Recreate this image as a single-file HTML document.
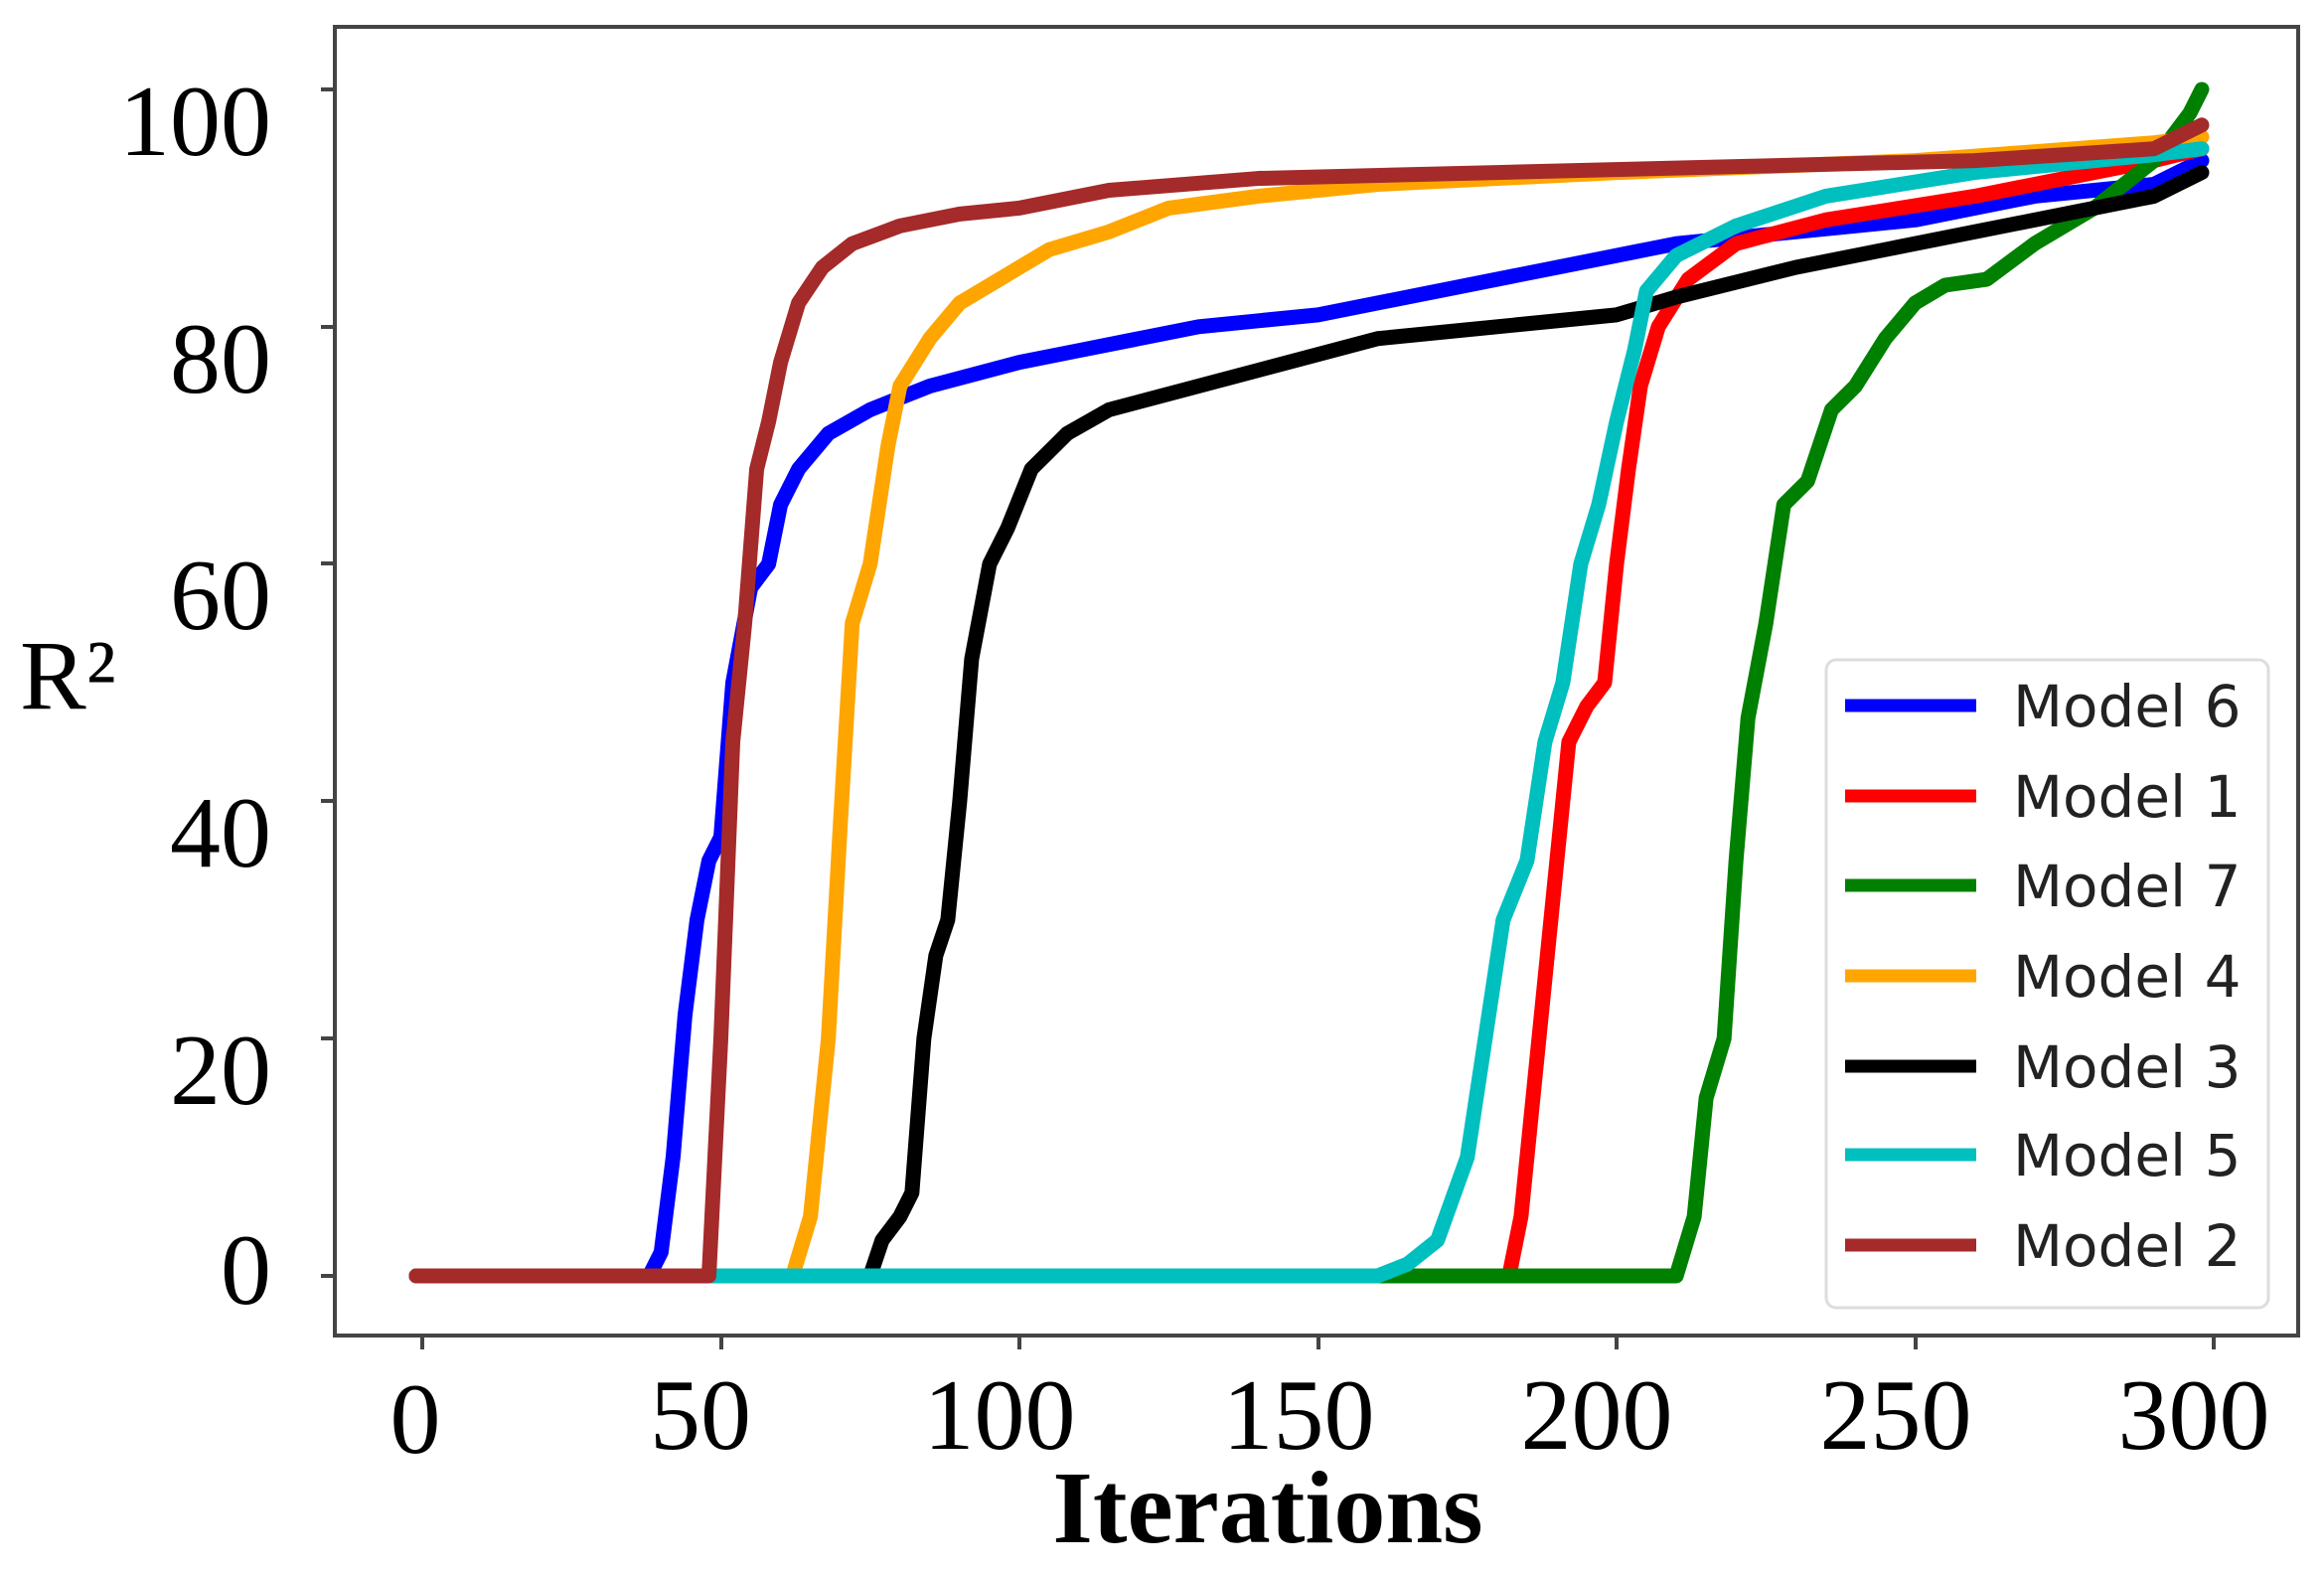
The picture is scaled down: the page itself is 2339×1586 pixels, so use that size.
<!DOCTYPE html>
<html><head><meta charset="utf-8"><style>
html,body{margin:0;padding:0;background:#fff;}
svg{display:block;}
.t{font-family:"Liberation Serif",serif;font-size:102px;fill:#000;}
.l{font-family:"DejaVu Sans",sans-serif;font-size:58px;fill:#222;}
</style></head><body>
<svg width="2339" height="1586" viewBox="0 0 2339 1586" xmlns="http://www.w3.org/2000/svg">
<rect x="337" y="27" width="1976" height="1317" fill="#fff" stroke="#444" stroke-width="4"/>
<g stroke="#444" stroke-width="4">
<line x1="323" y1="90" x2="337" y2="90"/><line x1="323" y1="329" x2="337" y2="329"/><line x1="323" y1="567" x2="337" y2="567"/><line x1="323" y1="806" x2="337" y2="806"/><line x1="323" y1="1045" x2="337" y2="1045"/><line x1="323" y1="1284" x2="337" y2="1284"/>
<line x1="425" y1="1344" x2="425" y2="1358"/><line x1="726" y1="1344" x2="726" y2="1358"/><line x1="1026" y1="1344" x2="1026" y2="1358"/><line x1="1327" y1="1344" x2="1327" y2="1358"/><line x1="1627" y1="1344" x2="1627" y2="1358"/><line x1="1928" y1="1344" x2="1928" y2="1358"/><line x1="2228" y1="1344" x2="2228" y2="1358"/>
</g>
<g class="t" text-anchor="end">
<text x="273" y="156">100</text><text x="273" y="395">80</text><text x="273" y="633">60</text><text x="273" y="872">40</text><text x="273" y="1111">20</text><text x="273" y="1312">0</text>
</g>
<g class="t" text-anchor="middle">
<text x="418" y="1462">0</text><text x="705" y="1458">50</text><text x="1006" y="1458">100</text><text x="1307" y="1458">150</text><text x="1607" y="1458">200</text><text x="1908" y="1458">250</text><text x="2208" y="1458">300</text>
</g>
<text x="1276" y="1552" text-anchor="middle" style="font-family:'Liberation Serif',serif;font-weight:bold;font-size:104px">Iterations</text>
<text x="20" y="713" style="font-family:'Liberation Serif',serif;font-size:100px">R²</text>
<g fill="none" stroke-width="15" stroke-linejoin="round" stroke-linecap="round" transform="translate(425,1284) scale(6.01,-11.94)">
<polyline vector-effect="non-scaling-stroke" stroke="#0000ff" points="-1,0 38,0 40,2 42,10 44,22 46,30 48,35 50,37 52,50 55,58 58,60 60,65 63,68 68,71 75,73 85,75 100,77 110,78 130,80 150,81 170,83 190,85 210,87 230,88 250,89 270,91 290,92 298,94"/>
<polyline vector-effect="non-scaling-stroke" stroke="#ff0000" points="-1,0 182,0 184,5 186,15 188,25 190,35 192,45 195,48 198,50 200,60 202,68 204,75 207,80 212,84 220,87 235,89 260,91 290,94 298,95"/>
<polyline vector-effect="non-scaling-stroke" stroke="#008000" points="-1,0 210,0 213,5 215,15 218,20 220,35 222,47 225,55 228,65 232,67 236,73 240,75 245,79 250,82 255,83.5 262,84 270,87 280,90 290,94 296,98 298,100"/>
<polyline vector-effect="non-scaling-stroke" stroke="#ffa500" points="-1,0 62,0 65,5 68,20 70,38 72,55 75,60 78,70 80,75 85,79 90,82 95,83.5 100,85 105,86.5 115,88 125,90 140,91 160,92 200,93 250,94 290,95.5 298,96"/>
<polyline vector-effect="non-scaling-stroke" stroke="#000000" points="-1,0 75,0 77,3 80,5 82,7 84,20 86,27 88,30 90,40 92,52 95,60 98,63 102,68 108,71 115,73 130,75 145,77 160,79 180,80 200,81 210,82.5 230,85 260,88 290,91 298,93"/>
<polyline vector-effect="non-scaling-stroke" stroke="#00bfbf" points="-1,0 160,0 165,1 170,3 175,10 178,20 181,30 185,35 188,45 191,50 194,60 197,65 200,72 203,78 205,83 210,86 220,88.5 235,91 260,93 290,94.5 298,95"/>
<polyline vector-effect="non-scaling-stroke" stroke="#a52a2a" points="-1,0 48,0 50,20 52,45 54,55 56,68 58,72 60,77 63,82 67,85 72,87 80,88.5 90,89.5 100,90 115,91.5 140,92.5 180,93 220,93.5 260,94 290,95 298,97"/>
</g>
<rect x="1838" y="664" width="445" height="652" rx="10" fill="#fff" fill-opacity="0.9" stroke="#ddd" stroke-width="3"/>
<g stroke-width="13">
<line x1="1857" y1="710" x2="1989" y2="710" stroke="#0000ff"/>
<line x1="1857" y1="801" x2="1989" y2="801" stroke="#ff0000"/>
<line x1="1857" y1="891" x2="1989" y2="891" stroke="#008000"/>
<line x1="1857" y1="982" x2="1989" y2="982" stroke="#ffa500"/>
<line x1="1857" y1="1073" x2="1989" y2="1073" stroke="#000000"/>
<line x1="1857" y1="1162" x2="1989" y2="1162" stroke="#00bfbf"/>
<line x1="1857" y1="1253" x2="1989" y2="1253" stroke="#a52a2a"/>
</g>
<g class="l">
<text x="2026" y="731">Model 6</text><text x="2026" y="822">Model 1</text><text x="2026" y="912">Model 7</text><text x="2026" y="1003">Model 4</text><text x="2026" y="1094">Model 3</text><text x="2026" y="1183">Model 5</text><text x="2026" y="1274">Model 2</text>
</g>
</svg>
</body></html>
